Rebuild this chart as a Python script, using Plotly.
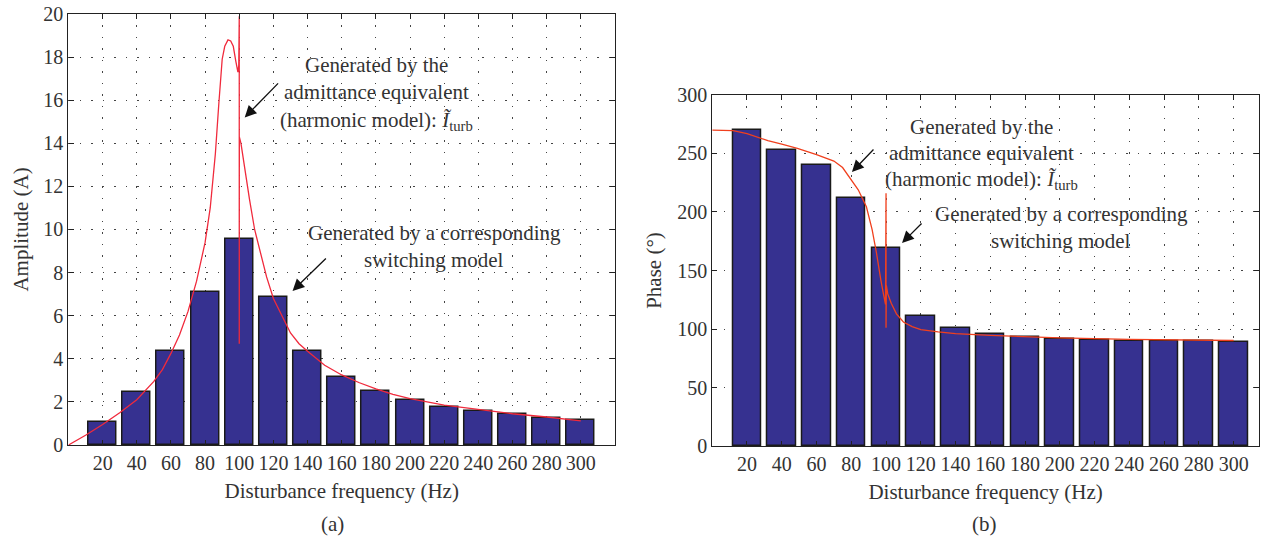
import plotly.graph_objects as go

# ---------------- data ----------------
freq = [20, 40, 60, 80, 100, 120, 140, 160, 180, 200, 220, 240, 260, 280, 300]
amp_bars = [1.05, 2.46, 4.34, 7.08, 9.57, 6.85, 4.34, 3.16, 2.5, 2.09, 1.78, 1.59, 1.45, 1.25, 1.17]
phase_bars = [270, 253, 240, 212, 169, 111, 101, 96, 93, 91.5, 90.6, 90, 90, 89.7, 89.2]

amp_curve_hz = [0, 10, 20, 30, 40, 50, 55, 60, 65, 70, 75, 80, 83, 86, 88, 90, 91.5, 93.4, 95, 96.5,
                98, 99.2, 99.7, 100, 100, 100.05, 101, 103, 106, 109, 112, 116, 120, 125, 130, 135,
                140, 150, 160, 170, 180, 190, 200, 220, 240, 260, 280, 300]
amp_curve = [0, 0.45, 0.95, 1.5, 2.1, 2.95, 3.5, 4.25, 5.1, 6.2, 7.6, 9.4, 11.0, 13.5, 15.8, 17.9, 18.5,
             18.8, 18.75, 18.5, 17.8, 17.3, 17.6, 19.9, 4.7, 14.3, 14.0, 12.9, 11.4, 10.0, 9.0, 7.8,
             6.8, 6.0, 5.2, 4.7, 4.35, 3.7, 3.25, 2.9, 2.6, 2.35, 2.15, 1.85, 1.65, 1.45, 1.3, 1.12]

ph_curve_hz = [0, 12, 20, 32, 40, 49, 60, 70, 75, 79, 84, 88.7, 92, 94.5, 95.5, 97, 98.5, 99.7, 100, 100,
               100.2, 101, 103, 106, 110, 115, 120, 130, 140, 160, 180, 200, 240, 280, 300]
ph_curve = [270, 269.5, 267, 261, 258, 254.4, 249, 243.5, 238, 230, 219, 204.5, 185, 165, 155, 142,
            130, 121, 216, 101, 137, 130, 122, 113, 106, 102, 99.5, 97.5, 96, 94.5, 93.3, 92.5, 91.2,
            90.5, 90.2]

x_ticks = freq
amp_ticks = list(range(0, 21, 2))
phase_ticks = list(range(0, 301, 50))

# ---------------- style ----------------
FONT = "Liberation Serif"
TXT = "#333333"
BAR = "#363190"
RED_A = "#f02a3c"
RED_B = "#f0401e"
GRID_DASH = "1.5px,10px"
TICK_SIZE = 20
TEXT_SIZE = 21
W, H = 1268, 544

fig = go.Figure()
fig.add_trace(go.Bar(x=freq, y=amp_bars, width=16.4, marker=dict(color=BAR, line=dict(color="#1a1a1a", width=1.5)),
                     xaxis="x", yaxis="y", showlegend=False, name="Switching model"))
fig.add_trace(go.Scatter(x=amp_curve_hz, y=amp_curve, mode="lines", line=dict(color=RED_A, width=1.3),
                         xaxis="x", yaxis="y", showlegend=False, name="Harmonic model"))
fig.add_trace(go.Bar(x=freq, y=phase_bars, width=16.4, marker=dict(color=BAR, line=dict(color="#1a1a1a", width=1.5)),
                     xaxis="x2", yaxis="y2", showlegend=False, name="Switching model"))
fig.add_trace(go.Scatter(x=ph_curve_hz, y=ph_curve, mode="lines", line=dict(color=RED_B, width=1.3),
                         xaxis="x2", yaxis="y2", showlegend=False, name="Harmonic model"))

axis_common = dict(showline=True, linecolor="#222222", linewidth=1.2, mirror="ticks", ticks="inside",
                   ticklen=5, tickcolor="#222222", showgrid=True, gridcolor="#444444", gridwidth=1,
                   griddash=GRID_DASH, zeroline=False, automargin=False, ticklabeloverflow="allow",
                   tickfont=dict(family=FONT, size=TICK_SIZE, color=TXT))
title_font = dict(family=FONT, size=TEXT_SIZE, color=TXT)

fig.update_layout(
    width=W, height=H, margin=dict(l=0, r=0, t=0, b=0),
    paper_bgcolor="white", plot_bgcolor="white", bargap=0,
    font=dict(family=FONT, size=TEXT_SIZE, color=TXT),
    xaxis=dict(domain=[0.0540, 0.4850], range=[0, 320], tickvals=x_ticks, anchor="y",
               title=dict(text="Disturbance frequency (Hz)", font=title_font, standoff=10), **axis_common),
    yaxis=dict(domain=[0.1820, 0.9743], range=[0, 20], tickvals=amp_ticks, anchor="x",
               title=dict(text="Amplitude (A)", font=title_font, standoff=9), **axis_common),
    xaxis2=dict(domain=[0.5617, 0.9929], range=[0, 314.6], tickvals=x_ticks, anchor="y2",
                title=dict(text="Disturbance frequency (Hz)", font=title_font, standoff=10), **axis_common),
    yaxis2=dict(domain=[0.1801, 0.8254], range=[0, 300], tickvals=phase_ticks, anchor="x2",
                title=dict(text="Phase (°)", font=title_font, standoff=9), **axis_common),
)

ann = []
def txt(x, y, s, xr, yr):
    ann.append(dict(x=x, y=y, xref=xr, yref=yr, text=s, showarrow=False, xanchor="center", yanchor="middle",
                    font=dict(family=FONT, size=TEXT_SIZE, color=TXT)))

def arrow(hx, hy, tx, ty, xr, yr):
    ann.append(dict(x=hx, y=hy, ax=tx, ay=ty, xref=xr, yref=yr, axref=xr, ayref=yr, text="",
                    showarrow=True, arrowhead=2, arrowsize=1.8, arrowwidth=1.3, arrowcolor="#111111"))

turb = "(harmonic model): <i>Ĩ</i><sub>turb</sub>"
# panel (a)
txt(180.3, 17.63, "Generated by the", "x", "y")
txt(180.3, 16.38, "admittance equivalent", "x", "y")
txt(180.3, 15.05, turb, "x", "y")
arrow(103.2, 15.2, 123.6, 16.85, "x", "y")
txt(214.2, 9.84, "Generated by a corresponding", "x", "y")
txt(214.2, 8.58, "switching model", "x", "y")
arrow(131.2, 7.15, 151.6, 8.72, "x", "y")
# panel (b)
txt(155.2, 272.6, "Generated by the", "x2", "y2")
txt(155.2, 250.4, "admittance equivalent", "x2", "y2")
txt(155.2, 227.5, turb, "x2", "y2")
arrow(80.4, 234.2, 93.6, 254.7, "x2", "y2")
txt(200.7, 198.3, "Generated by a corresponding", "x2", "y2")
txt(200.7, 175.2, "switching model", "x2", "y2")
arrow(109.2, 173.5, 121.3, 191.5, "x2", "y2")
# panel labels
ann.append(dict(x=0.2626, y=0.0368, xref="paper", yref="paper", text="(a)", showarrow=False,
                xanchor="center", yanchor="middle", font=dict(family=FONT, size=TEXT_SIZE, color=TXT)))
ann.append(dict(x=0.7768, y=0.0368, xref="paper", yref="paper", text="(b)", showarrow=False,
                xanchor="center", yanchor="middle", font=dict(family=FONT, size=TEXT_SIZE, color=TXT)))
fig.update_layout(annotations=ann)

# remove the default 8px body margin so the figure fills the window exactly
fig.write_html("out.html", config={"displayModeBar": False},
               post_script="document.body.style.margin='0';document.body.style.overflow='hidden';")
